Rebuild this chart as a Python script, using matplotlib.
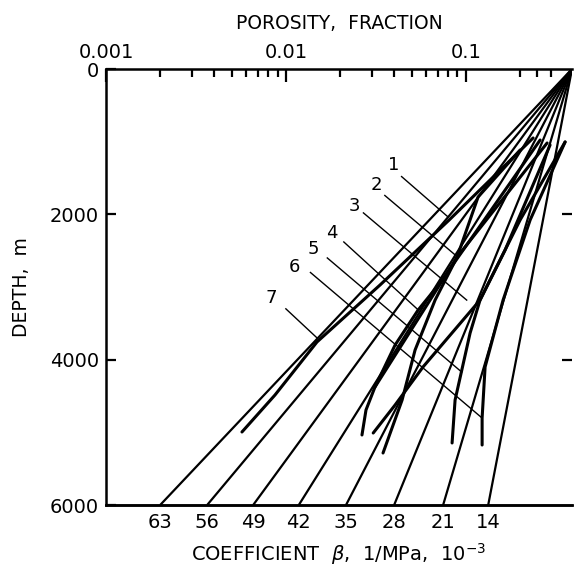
import matplotlib
matplotlib.use("Agg")
import matplotlib.pyplot as plt
from matplotlib.ticker import FixedLocator, NullFormatter

# ---------------- data ----------------
beta_labels = ["63", "56", "49", "42", "35", "28", "21", "14"]
apex_porosity = 0.39            # porosity at depth 0 (common start of beta lines)
beta_end_porosity = [0.0020, 0.00365, 0.00658, 0.0118, 0.0216, 0.0400, 0.0749, 0.1334]  # at 6000 m
max_depth = 6000

curve_names = ["1", "2", "3", "4", "5", "6", "7"]
curve_depth = {
    "1": [1115, 1761, 2587, 3179, 3867, 4555, 5284],
    "2": [1018, 2587, 3179, 4376, 4692, 5036],
    "3": [1004, 2078, 3179, 4100, 4623, 5009],
    "4": [977, 2257, 2945, 3316, 3798, 4376],
    "5": [1046, 2491, 3179, 3633, 4555, 5146],
    "6": [1004, 2078, 3179, 4100, 4802, 5174],
    "7": [949, 2078, 2972, 3756, 4486, 4995],
}
curve_porosity = {
    "1": [0.2007, 0.1172, 0.0896, 0.0676, 0.0523, 0.0443, 0.0347],
    "2": [0.2836, 0.0896, 0.0634, 0.0313, 0.0279, 0.0265],
    "3": [0.3571, 0.2007, 0.1202, 0.0579, 0.0405, 0.0306],
    "4": [0.2594, 0.1128, 0.0720, 0.0544, 0.0405, 0.0313],
    "5": [0.2946, 0.1656, 0.1202, 0.1058, 0.0873, 0.0840],
    "6": [0.3571, 0.2282, 0.1614, 0.1282, 0.1234, 0.1234],
    "7": [0.2371, 0.0809, 0.0334, 0.0149, 0.0087, 0.0057],
}
# leader lines: label position, leader start and end point (porosity, depth)
label_pos = {"1": (0.0400, 1320), "2": (0.0320, 1600), "3": (0.0240, 1880),
             "4": (0.0180, 2250), "5": (0.0142, 2480), "6": (0.0112, 2730), "7": (0.0083, 3150)}
leader_start = {"1": (0.0440, 1480), "2": (0.0355, 1740), "3": (0.0270, 1980),
                "4": (0.0210, 2380), "5": (0.0170, 2600), "6": (0.0137, 2800), "7": (0.0100, 3300)}
leader_end = {"1": (0.0798, 2036), "2": (0.0895, 2580), "3": (0.1013, 3180),
              "4": (0.0545, 3316), "5": (0.0950, 4170), "6": (0.1230, 4800), "7": (0.0149, 3700)}

# ---------------- figure ----------------
plt.rcParams['font.family'] = ['DejaVu Sans']
fig = plt.figure(figsize=(5.74, 5.67), dpi=100)
ax = fig.add_axes([0.1847, 0.1093, 0.8118, 0.769])
ax.set_xscale('log')
ax.set_xlim(0.001, 0.39)
ax.set_ylim(max_depth, 0)

for p in beta_end_porosity:
    ax.plot([apex_porosity, p], [0, max_depth], color='black', lw=1.6, solid_capstyle='butt')

for n in curve_names:
    ax.plot(curve_porosity[n], curve_depth[n], color='black', lw=2.2,
            solid_capstyle='round', solid_joinstyle='round')

for n in curve_names:
    xs, ys = leader_start[n]
    xe, ye = leader_end[n]
    ax.plot([xs, xe], [ys, ye], color='black', lw=1.0)
    xl, yl = label_pos[n]
    ax.text(xl, yl, n, fontsize=13, ha='center', va='center')

# spines
for s in ['left', 'top', 'bottom']:
    ax.spines[s].set_linewidth(1.8)
ax.spines['right'].set_visible(False)

# top (porosity) axis
ax.xaxis.tick_top()
ax.xaxis.set_label_position('top')
ax.xaxis.set_major_locator(FixedLocator([0.001, 0.01, 0.1]))
ax.set_xticklabels(['0.001', '0.01', '0.1'])
minors = [k * 0.001 for k in range(2, 10)] + [k * 0.01 for k in range(2, 10)] + [0.2, 0.25, 0.3]
ax.xaxis.set_minor_locator(FixedLocator(minors))
ax.xaxis.set_minor_formatter(NullFormatter())
ax.tick_params(axis='x', which='major', direction='in', length=9, width=1.6, labelsize=14, pad=5)
ax.tick_params(axis='x', which='minor', direction='in', length=6, width=1.6)
ax.set_xlabel('POROSITY,  FRACTION', fontsize=13.5, labelpad=10)

# left depth axis
ax.set_yticks([0, 2000, 4000, 6000])
ax.set_yticklabels(['0', '2000', '4000', '6000'])
ax.tick_params(axis='y', which='major', direction='in', length=7, width=1.6, labelsize=14, pad=5)
ax.set_ylabel('DEPTH,  m', fontsize=13.5, labelpad=14)

# right ticks
ay = ax.secondary_yaxis('right')
ay.set_yticks([2000, 4000])
ay.set_yticklabels([])
ay.spines['right'].set_visible(False)
ay.tick_params(direction='in', length=7, width=1.6)

# bottom beta axis
ab = ax.secondary_xaxis('bottom')
ab.set_xticks(beta_end_porosity)
ab.set_xticklabels(beta_labels)
ab.xaxis.set_minor_locator(FixedLocator([]))
ab.tick_params(axis='x', length=0, labelsize=14, pad=6)
ab.spines['bottom'].set_linewidth(1.8)
ab.set_xlabel(r'COEFFICIENT  $\beta$,  1/MPa,  10$^{-3}$', fontsize=14, labelpad=6)

fig.savefig('out.png', dpi=100)
